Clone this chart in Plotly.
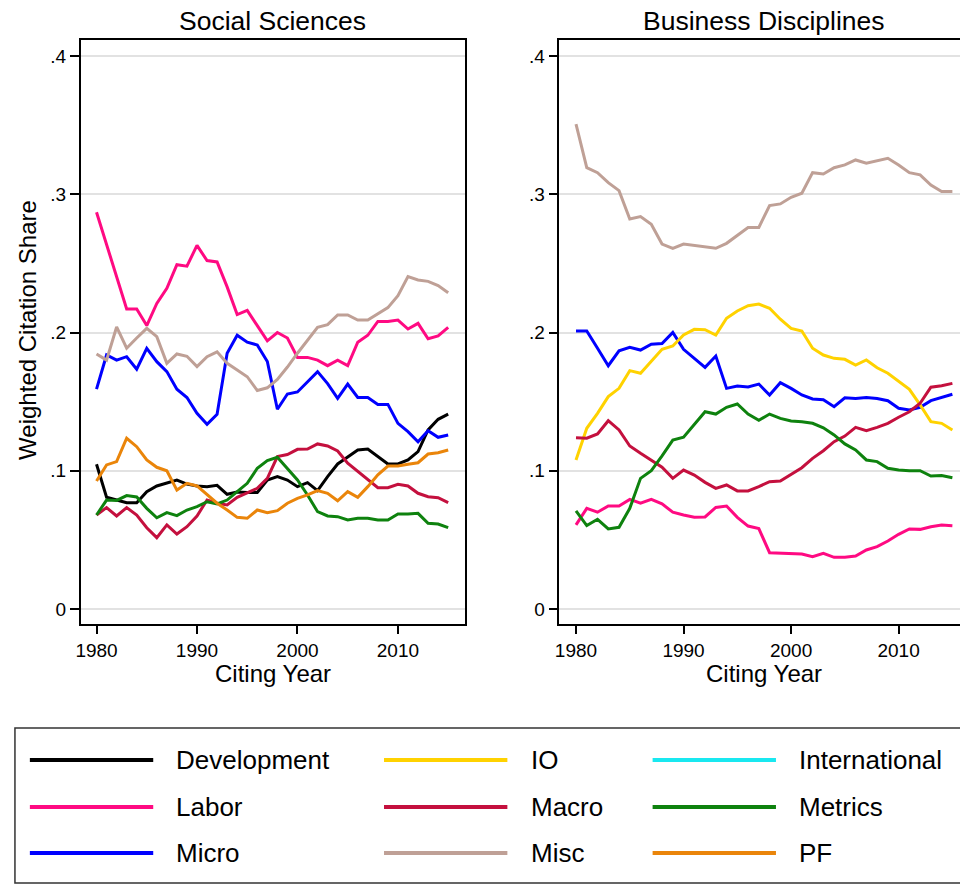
import plotly.graph_objects as go

W, H = 960, 884
FONT = "Liberation Sans, Arial, sans-serif"

years = list(range(1980, 2016))

# legend order (column-major, 3 rows)
series_names = ["Development", "Labor", "Micro", "IO", "Macro", "Misc",
                "International", "Metrics", "PF"]
series_colors = ["#000000", "#FF0A82", "#0000FF", "#FFD200", "#C4103E",
                 "#BFA096", "#19E8F0", "#0E820E", "#EA850A"]

# ---- Social Sciences ----
ss_development = [0.1047, 0.0808, 0.0788, 0.0769, 0.0769, 0.0849, 0.089, 0.0914, 0.0933, 0.0904,
                  0.089, 0.0885, 0.0895, 0.083, 0.0846, 0.0843, 0.0843, 0.0933, 0.0957, 0.0933,
                  0.0885, 0.0914, 0.0856, 0.0957, 0.1049, 0.110, 0.115, 0.1157, 0.110, 0.1049,
                  0.1049, 0.1078, 0.1138, 0.1295, 0.1372, 0.141]
ss_labor = [0.287, 0.264, 0.240, 0.217, 0.217, 0.205, 0.221, 0.232, 0.249, 0.248,
            0.263, 0.252, 0.251, 0.233, 0.213, 0.216, 0.205, 0.194, 0.200, 0.196,
            0.182, 0.182, 0.180, 0.176, 0.180, 0.176, 0.193, 0.198, 0.208, 0.208,
            0.209, 0.2025, 0.2066, 0.1955, 0.1975, 0.2037]
ss_micro = [0.159, 0.1837, 0.180, 0.1825, 0.1734, 0.1886, 0.1789, 0.1717, 0.159, 0.153,
            0.1415, 0.1336, 0.1408, 0.185, 0.198, 0.193, 0.191, 0.179, 0.1445, 0.1555,
            0.157, 0.164, 0.1717, 0.163, 0.1524, 0.1627, 0.153, 0.153, 0.148, 0.148,
            0.1343, 0.1283, 0.121, 0.129, 0.1242, 0.1259]
ss_macro = [0.068, 0.0733, 0.0673, 0.0733, 0.068, 0.0588, 0.0516, 0.0608, 0.0542, 0.0595,
            0.0673, 0.0788, 0.0765, 0.0752, 0.0808, 0.0841, 0.0873, 0.0945, 0.1102, 0.1117,
            0.1155, 0.1157, 0.1194, 0.1179, 0.1143, 0.1054, 0.0993, 0.0933, 0.0877, 0.0877,
            0.0902, 0.089, 0.0837, 0.0812, 0.0805, 0.0769]
ss_misc = [0.1845, 0.180, 0.204, 0.1886, 0.196, 0.203, 0.197, 0.1777, 0.1845, 0.1828,
           0.1753, 0.1825, 0.186, 0.1777, 0.1729, 0.168, 0.158, 0.160, 0.166, 0.175,
           0.185, 0.1946, 0.2037, 0.2057, 0.2127, 0.2127, 0.209, 0.209, 0.2134, 0.218,
           0.2266, 0.2404, 0.238, 0.237, 0.234, 0.2288]
ss_metrics = [0.068, 0.0788, 0.0785, 0.082, 0.081, 0.0728, 0.066, 0.0697, 0.0675, 0.0716,
              0.074, 0.0776, 0.076, 0.0788, 0.0849, 0.0909, 0.1018, 0.1073, 0.1097, 0.1018,
              0.0933, 0.0825, 0.0704, 0.0673, 0.0668, 0.0644, 0.0656, 0.0656, 0.0644, 0.0644,
              0.0687, 0.0687, 0.0692, 0.062, 0.0615, 0.0588]
ss_pf = [0.0926, 0.1042, 0.1066, 0.1235, 0.1174, 0.1078, 0.1025, 0.100, 0.086, 0.0909,
         0.089, 0.0825, 0.0765, 0.0716, 0.0663, 0.0656, 0.0716, 0.0697, 0.0711, 0.0765,
         0.080, 0.0825, 0.0856, 0.0837, 0.0783, 0.0849, 0.0808, 0.0885, 0.097, 0.1034,
         0.1034, 0.1047, 0.1058, 0.1121, 0.113, 0.115]

# ---- Business Disciplines ----
bd_labor = [0.0608, 0.0728, 0.070, 0.0745, 0.0745, 0.0793, 0.0765, 0.0793, 0.076, 0.070,
            0.068, 0.0663, 0.0666, 0.0735, 0.0745, 0.0663, 0.060, 0.0582, 0.0407, 0.0404,
            0.0398, 0.0398, 0.0378, 0.0403, 0.0374, 0.0374, 0.0383, 0.0427, 0.0451, 0.0492,
            0.054, 0.0579, 0.0576, 0.0595, 0.0608, 0.0603]
bd_micro = [0.2011, 0.2011, 0.1886, 0.176, 0.1868, 0.1893, 0.1873, 0.1915, 0.192, 0.2001,
            0.1878, 0.1813, 0.1748, 0.183, 0.1596, 0.1613, 0.1606, 0.1627, 0.1548, 0.1637,
            0.1596, 0.1548, 0.1519, 0.1514, 0.1463, 0.1528, 0.1523, 0.153, 0.1523, 0.1507,
            0.1452, 0.144, 0.1459, 0.1507, 0.1531, 0.1553]
bd_io = [0.1078, 0.1307, 0.1415, 0.1536, 0.1596, 0.1724, 0.1705, 0.1789, 0.1878, 0.1902,
         0.1982, 0.2023, 0.202, 0.1982, 0.2103, 0.2156, 0.2194, 0.2206, 0.2175, 0.2096,
         0.203, 0.2011, 0.1886, 0.1837, 0.1813, 0.1806, 0.1765, 0.1801, 0.1745, 0.1705,
         0.1649, 0.1589, 0.1476, 0.1355, 0.1343, 0.1295]
bd_macro = [0.1239, 0.1235, 0.1266, 0.1362, 0.1295, 0.1179, 0.1126, 0.1078, 0.1025, 0.0945,
            0.1005, 0.0969, 0.0916, 0.0873, 0.0897, 0.0854, 0.0854, 0.0885, 0.0921, 0.0926,
            0.0976, 0.1022, 0.109, 0.1145, 0.121, 0.1251, 0.1314, 0.129, 0.1314, 0.1343,
            0.1387, 0.1427, 0.1488, 0.1604, 0.1615, 0.1632]
bd_misc = [0.3508, 0.3192, 0.3156, 0.3084, 0.3026, 0.2821, 0.2838, 0.2783, 0.264, 0.2609,
           0.264, 0.2628, 0.262, 0.2609, 0.2645, 0.2705, 0.276, 0.276, 0.2918, 0.293,
           0.2978, 0.3007, 0.3156, 0.3146, 0.3192, 0.3212, 0.3248, 0.3224, 0.3243, 0.326,
           0.3212, 0.3156, 0.314, 0.3067, 0.3019, 0.3019]
bd_metrics = [0.0709, 0.0603, 0.0649, 0.0579, 0.0591, 0.0728, 0.0945, 0.100, 0.1107, 0.1222,
              0.1242, 0.1331, 0.1427, 0.141, 0.1459, 0.1483, 0.141, 0.1365, 0.141, 0.1379,
              0.136, 0.1355, 0.1343, 0.1311, 0.1259, 0.1194, 0.115, 0.1078, 0.1066, 0.1018,
              0.1005, 0.100, 0.100, 0.0962, 0.0966, 0.095]

y_tickvals = [0, 0.1, 0.2, 0.3, 0.4]
y_ticktext = ["0", ".1", ".2", ".3", ".4"]
x_tickvals = [1980, 1990, 2000, 2010]

panel_titles = ["Social Sciences", "Business Disciplines"]
x_title = "Citing Year"
y_title = "Weighted Citation Share"

ss_series = [("Development", ss_development), ("Labor", ss_labor), ("Micro", ss_micro),
             ("Macro", ss_macro), ("Misc", ss_misc), ("Metrics", ss_metrics), ("PF", ss_pf)]
bd_series = [("Labor", bd_labor), ("Micro", bd_micro), ("IO", bd_io), ("Macro", bd_macro),
             ("Misc", bd_misc), ("Metrics", bd_metrics)]

color_of = dict(zip(series_names, series_colors))


def fx(p):
    return p / W


def fy(p):
    return 1 - p / H


fig = go.Figure()
for name, vals in ss_series:
    fig.add_trace(go.Scatter(x=years, y=vals, mode="lines", name=name,
                             line=dict(color=color_of[name], width=3),
                             xaxis="x", yaxis="y", showlegend=False))
for name, vals in bd_series:
    fig.add_trace(go.Scatter(x=years, y=vals, mode="lines", name=name,
                             line=dict(color=color_of[name], width=3),
                             xaxis="x2", yaxis="y2", showlegend=False))

common_x = dict(tickvals=x_tickvals, ticks="outside", ticklen=8, tickwidth=1.5,
                tickcolor="black", showline=True, linecolor="black", linewidth=1.5,
                mirror=True, showgrid=False, zeroline=False,
                tickfont=dict(size=19, color="black", family=FONT))
common_y = dict(tickvals=y_tickvals, ticktext=y_ticktext, ticks="outside", ticklen=9,
                tickwidth=1.5, tickcolor="black", showline=True, linecolor="black",
                linewidth=1.5, showgrid=True, gridcolor="#E2E2E2", gridwidth=2,
                zeroline=False, range=[-0.01085, 0.41157],
                tickfont=dict(size=19, color="black", family=FONT))

fig.update_layout(
    width=W, height=H,
    margin=dict(l=0, r=0, t=0, b=0),
    paper_bgcolor="white", plot_bgcolor="white",
    font=dict(family=FONT, color="black"),
    showlegend=False,
    xaxis=dict(domain=[fx(76), fx(462)], range=[1978.416, 2016.634], anchor="y", **common_x),
    yaxis=dict(domain=[fy(624), fy(40)], anchor="x", mirror=True, **common_y),
    xaxis2=dict(domain=[fx(557.3), 1.0], range=[1978.455, 2015.708], anchor="y2", **common_x),
    yaxis2=dict(domain=[fy(624), fy(40)], anchor="x2", mirror=False, **common_y),
)

annotations = []
for title, cx in zip(panel_titles, [269, 763]):
    annotations.append(dict(text=title, x=fx(cx), y=fy(21), xref="paper", yref="paper",
                            xanchor="center", yanchor="middle", showarrow=False,
                            font=dict(size=26.5, family=FONT, color="black")))
    annotations.append(dict(text=x_title, x=fx(cx), y=fy(673), xref="paper", yref="paper",
                            xanchor="center", yanchor="middle", showarrow=False,
                            font=dict(size=24, family=FONT, color="black")))
annotations.append(dict(text=y_title, x=fx(22), y=fy(330), xref="paper", yref="paper",
                        xanchor="center", yanchor="middle", showarrow=False, textangle=-90,
                        font=dict(size=24, family=FONT, color="black")))

# custom legend (Stata style): box, 3 columns x 3 rows
shapes = [dict(type="rect", xref="paper", yref="paper", x0=fx(10), x1=fx(990),
               y0=fy(883), y1=fy(728), line=dict(color="#333333", width=1.5),
               fillcolor="rgba(0,0,0,0)", layer="above")]
row_y = [760, 807, 853]
col_line = [(25, 149), (381, 505), (651, 775)]
col_text = [170, 527, 796]
for i, (name, color) in enumerate(zip(series_names, series_colors)):
    c, r = divmod(i, 3)
    shapes.append(dict(type="line", xref="paper", yref="paper",
                       x0=fx(col_line[c][0]), x1=fx(col_line[c][1]),
                       y0=fy(row_y[r]), y1=fy(row_y[r]),
                       line=dict(color=color, width=4)))
    annotations.append(dict(text=name, x=fx(col_text[c]), y=fy(row_y[r]),
                            xref="paper", yref="paper", xanchor="left", yanchor="middle",
                            showarrow=False,
                            font=dict(size=26, family=FONT, color="black")))

fig.update_layout(annotations=annotations, shapes=shapes)
fig.write_html("out.html",
               config={"displayModeBar": False},
               post_script="document.body.style.margin='0';document.body.style.overflow='hidden';")
